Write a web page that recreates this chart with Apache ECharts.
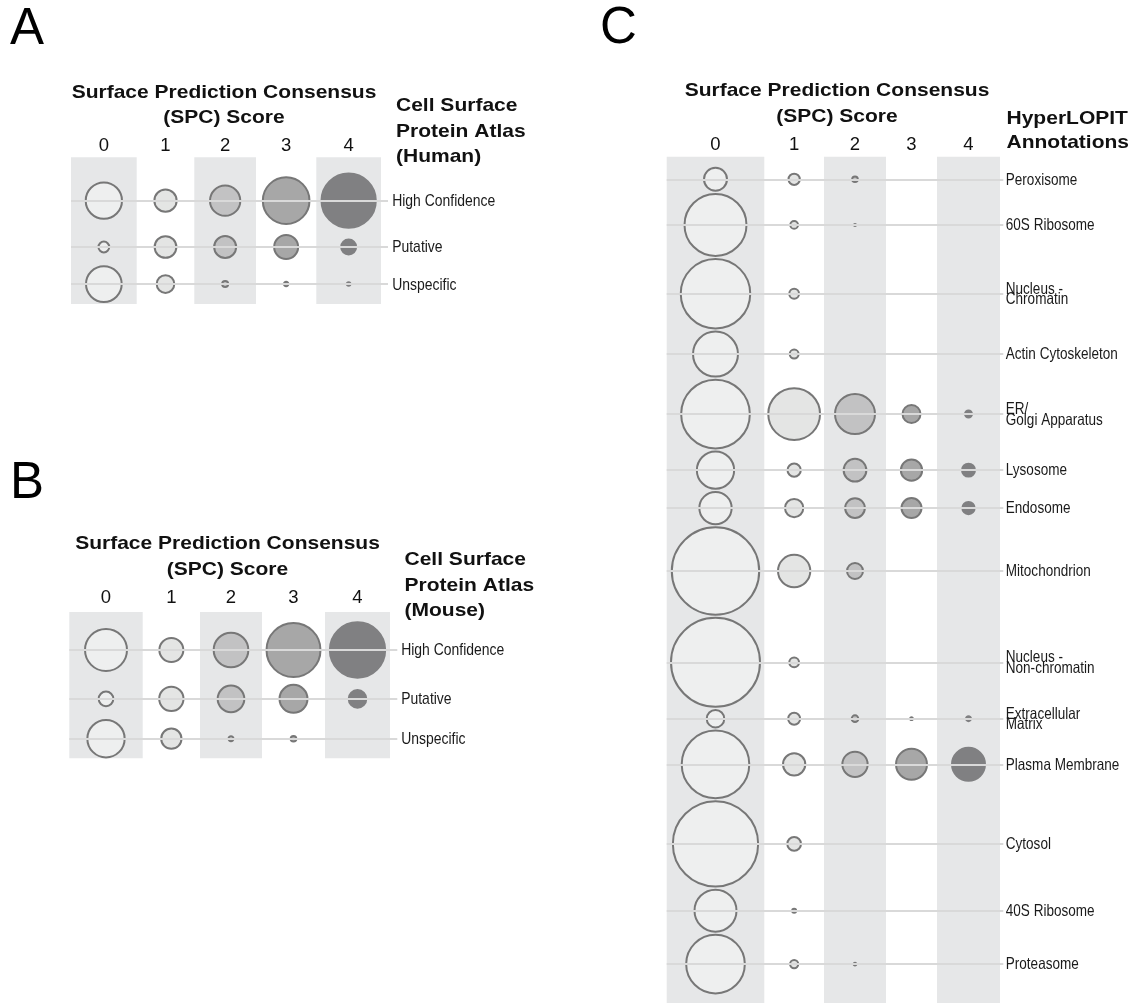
<!DOCTYPE html>
<html>
<head>
<meta charset="utf-8">
<script src="https://cdn.jsdelivr.net/npm/echarts@6/dist/echarts.min.js"></script>
<style>
  html, body { margin: 0; padding: 0; background: #ffffff; }
  #chart { width: 1136px; height: 1003px; }
</style>
</head>
<body>
<div id="chart"></div>
<script>
// ---- data -------------------------------------------------------------
const spcScores = ['0', '1', '2', '3', '4'];

const atlasClasses = ['High Confidence', 'Putative', 'Unspecific'];

// protein counts, one inner array per SPC score (rows follow atlasClasses)
const humanCounts = [
  [329, 29, 319],
  [124, 118, 78],
  [230, 121, 9],
  [545, 144, 5],
  [737, 56, 3]
];

const mouseCounts = [
  [441, 54, 348],
  [144, 148, 103],
  [301, 178, 6],
  [729, 196, 8],
  [765, 78, 0]
];

const lopitClasses = [
  'Peroxisome', '60S Ribosome', 'Nucleus -\nChromatin', 'Actin Cytoskeleton',
  'ER/\nGolgi Apparatus', 'Lysosome', 'Endosome', 'Mitochondrion',
  'Nucleus -\nNon-chromatin', 'Extracellular\nMatrix', 'Plasma Membrane',
  'Cytosol', '40S Ribosome', 'Proteasome'
];

// protein counts, one inner array per SPC score (rows follow lopitClasses)
const lopitCounts = [
  [132, 961, 1208, 506, 1180, 348, 261, 1910, 1980, 77, 1142, 1819, 441, 861],
  [32, 15, 24, 20, 671, 44, 84, 261, 24, 36, 124, 47, 4, 17],
  [8, 1, 0, 0, 400, 129, 97, 64, 0, 11, 160, 0, 0, 2],
  [0, 0, 0, 0, 81, 113, 100, 0, 0, 2, 240, 0, 0, 0],
  [0, 0, 0, 0, 12, 42, 38, 0, 0, 6, 272, 0, 0, 0]
];

// ---- styling / layout ---------------------------------------------------
const BAND = '#e6e7e8';
const GRID_LINE = '#d9d9d9';
const RING = '#777777';
const FILLS = [
  'rgba(244,245,244,0.6)',
  'rgba(210,211,210,0.6)',
  'rgba(170,170,170,0.6)',
  'rgba(108,108,108,0.6)',
  '#808082'
];
const BORDER = 2;
const SANS = "'Liberation Sans', Arial, Helvetica, sans-serif";
const NARROW = 0.82;   // horizontal squeeze for the row names
const WIDE = 1.13;     // horizontal stretch for the bold headings

const panelLayouts = [
  { left: 71, top: 157.3, height: 146.7, colWidths: [65.7, 57.6, 61.7, 60.3, 64.7],
    lineExt: 7, topPad: 15.2, rowGap: 5.2, labelMargin: 4.2, tickMargin: 2,
    labelSize: 17, labelLineHeight: 17 },
  { left: 69.3, top: 612, height: 146.3, colWidths: [73.4, 57.3, 62, 63, 65],
    lineExt: 7.3, topPad: 9.35, rowGap: 5.2, labelMargin: 3.9, tickMargin: 4.75,
    labelSize: 17, labelLineHeight: 17 },
  { left: 666.7, top: 156.7, height: 846.3, colWidths: [97.6, 59.7, 62, 51, 63],
    lineExt: 3.3, topPad: 10.1, rowGap: 1.1, labelMargin: 2.5, tickMargin: 2,
    labelSize: 16.5, labelLineHeight: 10.5 }
];

// circle diameter from a count (area proportional to count)
const sizeOf = v => 2 * Math.sqrt(v);
const outerOf = v => (v > 0 ? sizeOf(v) + BORDER : 0);

function buildPanel(idx, layout, rows, counts) {
  // column centres along the x value axis
  const colCenters = [];
  let acc = 0;
  layout.colWidths.forEach(w => { colCenters.push(acc + w / 2); acc += w; });
  const xMax = acc + layout.lineExt;

  // rows are stacked so that the largest circles of neighbouring rows nearly touch
  const rowOuter = rows.map((_, r) => Math.max(...counts.map(c => outerOf(c[r]))));
  const rowCenters = [];
  rowOuter.forEach((d, r) => {
    if (r === 0) rowCenters.push(layout.topPad + d / 2);
    else rowCenters.push(rowCenters[r - 1] + (rowOuter[r - 1] + d) / 2 + layout.rowGap);
  });

  const grid = {
    left: layout.left, top: layout.top, width: xMax, height: layout.height,
    containLabel: false, outerBoundsMode: 'none'
  };
  const nearest = (arr, v) => {
    let best = 0;
    arr.forEach((a, i) => { if (Math.abs(a - v) < Math.abs(arr[best] - v)) best = i; });
    return best;
  };

  const xAxis = {
    gridIndex: idx, type: 'value', position: 'top', min: 0, max: xMax,
    axisLine: { show: false }, axisTick: { show: false }, splitLine: { show: false },
    axisLabel: {
      customValues: colCenters,
      margin: layout.tickMargin,
      fontFamily: SANS, fontSize: 18.5, color: '#111',
      formatter: v => spcScores[nearest(colCenters, v)]
    }
  };
  const yAxis = {
    gridIndex: idx, type: 'value', inverse: true, min: 0, max: layout.height,
    axisLine: { show: false }, axisTick: { show: false }, splitLine: { show: false },
    axisLabel: { show: false }
  };

  const series = [];
  // shaded bands behind even-numbered scores
  let x0 = 0;
  const bandData = [];
  layout.colWidths.forEach((w, i) => {
    if (i % 2 === 0) bandData.push([{ xAxis: x0, yAxis: 0 }, { xAxis: x0 + w, yAxis: layout.height }]);
    x0 += w;
  });
  series.push({
    type: 'scatter', xAxisIndex: idx, yAxisIndex: idx, data: [], z: 0, silent: true,
    markArea: { silent: true, itemStyle: { color: BAND, borderWidth: 0 }, label: { show: false }, data: bandData }
  });
  // horizontal guide line for every row
  series.push({
    type: 'scatter', xAxisIndex: idx, yAxisIndex: idx, data: [], z: 1, silent: true,
    markLine: {
      silent: true, symbol: ['none', 'none'], label: { show: false },
      lineStyle: { color: GRID_LINE, width: 2, type: 'solid' },
      data: rowCenters.map(y => ({ yAxis: y }))
    }
  });
  // one bubble series per SPC score
  counts.forEach((col, s) => {
    const data = [];
    col.forEach((v, r) => { if (v > 0) data.push([colCenters[s], rowCenters[r], v]); });
    series.push({
      type: 'scatter', xAxisIndex: idx, yAxisIndex: idx, z: 2, silent: true,
      symbol: 'circle',
      symbolSize: d => sizeOf(d[2]),
      itemStyle: {
        color: FILLS[s],
        borderColor: s === 4 ? FILLS[4] : RING,
        borderWidth: BORDER,
        opacity: 1
      },
      data
    });
  });
  // row names, placed at the end of each guide line
  series.push({
    type: 'custom', xAxisIndex: idx, yAxisIndex: idx, z: 3, silent: true, clip: false,
    data: rows.map((_, r) => [xMax, rowCenters[r], r]),
    renderItem: (params, api) => {
      const p = api.coord([api.value(0), api.value(1)]);
      return {
        type: 'text', x: p[0] + layout.labelMargin, y: p[1] + 0.8, scaleX: NARROW, scaleY: 1,
        style: {
          text: rows[api.value(2)], fill: '#1a1a1a',
          fontFamily: SANS, fontSize: layout.labelSize, lineHeight: layout.labelLineHeight,
          align: 'left', verticalAlign: 'middle',
          textAlign: 'left', textVerticalAlign: 'middle'
        }
      };
    }
  });

  return { grid, xAxis, yAxis, series };
}

const panels = [
  buildPanel(0, panelLayouts[0], atlasClasses, humanCounts),
  buildPanel(1, panelLayouts[1], atlasClasses, mouseCounts),
  buildPanel(2, panelLayouts[2], lopitClasses, lopitCounts)
];

function txt(text, x, y, opts) {
  return {
    type: 'text', x, y, silent: true, scaleX: (opts && opts.scaleX) || WIDE,
    style: Object.assign({
      text, fill: '#111',
      fontFamily: SANS, fontWeight: 'bold', fontSize: 18.6,
      align: 'left', verticalAlign: 'middle',
      textAlign: 'left', textVerticalAlign: 'middle'
    }, (opts && opts.style) || {})
  };
}
const centred = { style: { align: 'center', textAlign: 'center' } };
const letter = { scaleX: 1, style: { fontWeight: 'normal', fontSize: 51, fill: '#000' } };

const headers = [
  txt('A', 10, 30, letter),
  txt('B', 10, 483.5, letter),
  txt('C', 600, 29, letter),

  txt('Surface Prediction Consensus', 224, 92.7, centred),
  txt('(SPC) Score', 224, 117.5, centred),
  txt('Cell Surface', 396, 106.3),
  txt('Protein Atlas', 396, 131.6),
  txt('(Human)', 396, 156.9),

  txt('Surface Prediction Consensus', 227.5, 543.7, centred),
  txt('(SPC) Score', 227.5, 569.5, centred),
  txt('Cell Surface', 404.5, 560.3),
  txt('Protein Atlas', 404.5, 585.6),
  txt('(Mouse)', 404.5, 610.9),

  txt('Surface Prediction Consensus', 837, 91.2, centred),
  txt('(SPC) Score', 837, 117, centred),
  txt('HyperLOPIT', 1006.5, 119.3),
  txt('Annotations', 1006.5, 143.3)
];

const chart = echarts.init(document.getElementById('chart'), null, { renderer: 'canvas' });
chart.setOption({
  animation: false,
  backgroundColor: '#ffffff',
  grid: panels.map(p => p.grid),
  xAxis: panels.map(p => p.xAxis),
  yAxis: panels.map(p => p.yAxis),
  series: panels.flatMap(p => p.series),
  graphic: { elements: headers }
});
</script>
</body>
</html>
